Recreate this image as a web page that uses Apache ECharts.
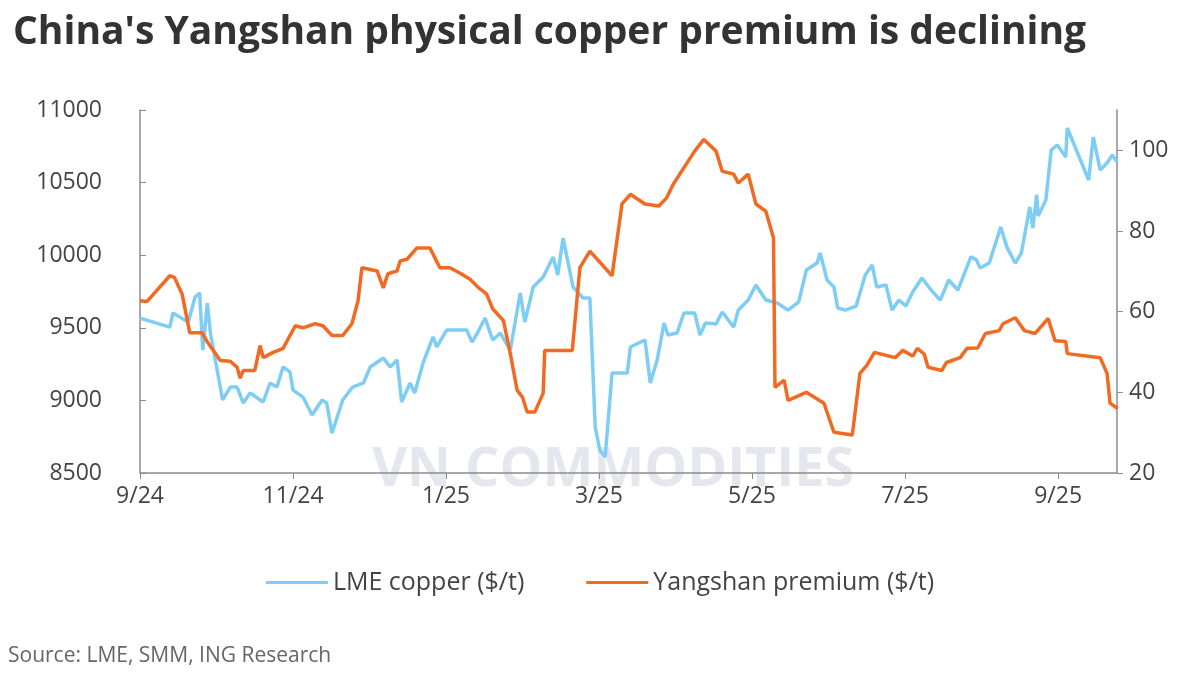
<!DOCTYPE html>
<html>
<head>
<meta charset="utf-8">
<script src="https://cdn.jsdelivr.net/npm/echarts@6/dist/echarts.min.js"></script>
<style>html,body{margin:0;padding:0;background:#fff}#chart{width:1200px;height:688px}</style>
</head>
<body>
<div id="chart"></div>
<script>
// x = months since Sep 2024
var monthLabels = ['9/24', '11/24', '1/25', '3/25', '5/25', '7/25', '9/25'];
var lmeCopper = [
  [0, 9567], [0.39, 9505], [0.43, 9602], [0.63, 9540], [0.72, 9712], [0.78, 9740], [0.82, 9347], [0.88, 9670], [0.92, 9464],
  [1.08, 9003], [1.18, 9092], [1.27, 9092], [1.35, 8982], [1.44, 9051], [1.61, 8989], [1.70, 9120], [1.79, 9092], [1.87, 9230],
  [1.96, 9196], [2.0, 9071], [2.13, 9023], [2.25, 8899], [2.38, 9003], [2.44, 8982], [2.51, 8775], [2.65, 9003], [2.78, 9092],
  [2.92, 9120], [3.01, 9230], [3.18, 9292], [3.27, 9230], [3.36, 9278], [3.42, 8989], [3.53, 9120], [3.59, 9051], [3.70, 9258],
  [3.83, 9437], [3.88, 9368], [4.01, 9485], [4.27, 9485], [4.34, 9402], [4.41, 9464], [4.51, 9567], [4.61, 9416], [4.71, 9464],
  [4.84, 9347], [4.97, 9740], [5.03, 9540], [5.14, 9781], [5.27, 9850], [5.40, 9988], [5.46, 9864], [5.53, 10118], [5.66, 9781],
  [5.79, 9705], [5.88, 9705], [5.95, 8817], [6.01, 8658], [6.08, 8610], [6.17, 9189], [6.37, 9189], [6.41, 9368], [6.60, 9416],
  [6.67, 9120], [6.76, 9278], [6.85, 9533], [6.9, 9450], [7.02, 9464], [7.11, 9602], [7.25, 9602], [7.32, 9450], [7.39, 9533],
  [7.53, 9526], [7.61, 9609], [7.76, 9505], [7.82, 9622], [7.95, 9691], [8.05, 9795], [8.18, 9691], [8.33, 9671], [8.47, 9622],
  [8.61, 9678], [8.71, 9898], [8.85, 9946], [8.89, 10015], [8.98, 9829], [9.07, 9781], [9.12, 9636], [9.22, 9622], [9.36, 9650],
  [9.48, 9864], [9.57, 9932], [9.63, 9781], [9.75, 9795], [9.83, 9622], [9.92, 9691], [10.01, 9650], [10.10, 9747], [10.22, 9843],
  [10.34, 9760], [10.46, 9691], [10.57, 9829], [10.69, 9760], [10.86, 9988], [10.93, 9970], [10.98, 9912], [11.1, 9946],
  [11.25, 10194], [11.33, 10056], [11.44, 9946], [11.52, 10015], [11.63, 10332], [11.67, 10187], [11.72, 10415], [11.74, 10270],
  [11.84, 10380], [11.91, 10724], [11.99, 10759], [12.1, 10676], [12.12, 10876], [12.4, 10518], [12.46, 10814], [12.55, 10587],
  [12.64, 10635], [12.71, 10690], [12.77, 10642]
];
var yangshanPremium = [
  [0, 62.7], [0.09, 62.5], [0.39, 68.9], [0.45, 68.5], [0.55, 64.4], [0.65, 54.8], [0.81, 54.8], [0.87, 52.8], [1.05, 47.9],
  [1.18, 47.7], [1.27, 46.2], [1.31, 43.5], [1.35, 45.4], [1.5, 45.4], [1.57, 51.6], [1.61, 48.6], [1.74, 49.9], [1.87, 50.9],
  [2.03, 56.5], [2.13, 56.0], [2.29, 57.0], [2.39, 56.5], [2.51, 54.1], [2.65, 54.1], [2.77, 57.0], [2.85, 62.7], [2.9, 70.9],
  [3.1, 70.1], [3.18, 65.9], [3.24, 69.4], [3.36, 70.1], [3.4, 72.6], [3.49, 73], [3.62, 75.8], [3.79, 75.8], [3.86, 73.1],
  [3.92, 70.9], [4.05, 70.9], [4.18, 69.6], [4.31, 68.1], [4.44, 65.7], [4.53, 64.4], [4.61, 60.7], [4.75, 57.8], [4.84, 49.6],
  [4.93, 40.5], [5.0, 38.8], [5.06, 35.1], [5.16, 35.1], [5.27, 39.8], [5.29, 50.4], [5.65, 50.4], [5.75, 70.9], [5.88, 75],
  [6.17, 68.9], [6.3, 86.7], [6.41, 89.1], [6.6, 86.7], [6.78, 86.2], [6.88, 88.1], [6.97, 91.6], [7.25, 99.8], [7.37, 102.7],
  [7.53, 99.8], [7.61, 94.8], [7.76, 94.1], [7.82, 91.9], [7.95, 94.1], [8.05, 86.7], [8.18, 84.9], [8.28, 78.3], [8.3, 41.2],
  [8.42, 43], [8.47, 38], [8.71, 40], [8.94, 37.3], [9.07, 30.1], [9.31, 29.4], [9.41, 44.7], [9.5, 46.7], [9.6, 49.9],
  [9.87, 48.6], [9.97, 50.4], [10.1, 49], [10.16, 50.9], [10.25, 49.5], [10.3, 46.2], [10.48, 45.4], [10.54, 47.4], [10.72, 48.6],
  [10.81, 50.9], [10.95, 51], [11.05, 54.6], [11.23, 55.3], [11.28, 57], [11.44, 58.5], [11.56, 55.3], [11.7, 54.6], [11.87, 58.3],
  [11.96, 52.8], [12.1, 52.6], [12.12, 49.6], [12.55, 48.6], [12.64, 44.7], [12.68, 37.3], [12.78, 36.0]
];

var myChart = echarts.init(document.getElementById('chart'));
var font = '"Open Sans", Lato, sans-serif';
var axisColor = '#8c8c8c';
var option = {
    backgroundColor: '#fff',
    textStyle: { fontFamily: font },
    title: {
        text: "China's Yangshan physical copper premium is declining",
        left: 8, top: 8,
        textStyle: { fontSize: 39, fontWeight: 'bold', color: '#333', fontFamily: font }
    },
    legend: {
        bottom: 88, left: 'center', itemGap: 62, itemWidth: 62, itemHeight: 3,
        icon: 'rect',
        textStyle: { fontSize: 25, color: '#444', fontFamily: font },
        data: ['LME copper ($/t)', 'Yangshan premium ($/t)']
    },
    graphic: [
        { type: 'text', left: 8, top: 646, style: { text: 'Source: LME, SMM, ING Research', fontSize: 21, fill: '#666', fontFamily: font } },
        { type: 'text', left: 372, top: 444, z: -1, style: { text: 'VN COMMODITIES', fontSize: 54, fontWeight: 'bold', fill: 'rgba(200,200,220,0.45)', fontFamily: font } }
    ],
    grid: { left: 140, right: 83, top: 110, bottom: 215 },
    xAxis: {
        type: 'value', min: 0, max: 12.77, interval: 2,
        axisLine: { lineStyle: { color: axisColor, width: 1.5 } },
        axisTick: { show: true, length: 6, lineStyle: { color: axisColor } },
        splitLine: { show: false },
        axisLabel: {
            fontSize: 23, color: '#444', margin: 12, showMaxLabel: false,
            formatter: function (v) { return monthLabels[Math.round(v / 2)] || ''; }
        }
    },
    yAxis: [
        {
            type: 'value', min: 8500, max: 11000, interval: 500,
            axisLine: { show: true, lineStyle: { color: axisColor, width: 1.5 } },
            axisTick: { show: true, inside: true, length: 6, lineStyle: { color: axisColor } },
            splitLine: { show: false },
            axisLabel: { fontSize: 23, color: '#444', margin: 38, formatter: function (v) { return String(v); } }
        },
        {
            type: 'value', min: 20, max: 110, interval: 20,
            axisLine: { show: true, lineStyle: { color: axisColor, width: 1.5 } },
            axisTick: { show: true, length: 6, lineStyle: { color: axisColor } },
            splitLine: { show: false },
            axisLabel: { fontSize: 23, color: '#444', margin: 12, showMaxLabel: false }
        }
    ],
    series: [
        {
            name: 'LME copper ($/t)', type: 'line', yAxisIndex: 0, data: lmeCopper,
            showSymbol: false, color: '#7dcdf4', lineStyle: { width: 3.5, color: '#7dcdf4' }
        },
        {
            name: 'Yangshan premium ($/t)', type: 'line', yAxisIndex: 1, data: yangshanPremium,
            showSymbol: false, color: '#f26a22', lineStyle: { width: 3.5, color: '#f26a22' }
        }
    ]
};
myChart.setOption(option);
</script>
</body>
</html>
